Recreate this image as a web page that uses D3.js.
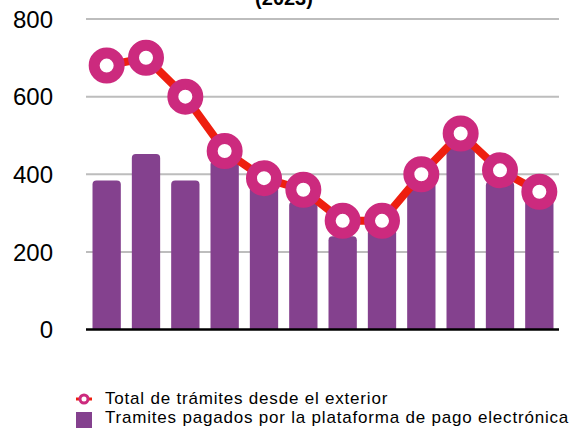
<!DOCTYPE html>
<html>
<head>
<meta charset="utf-8">
<script src="https://cdn.jsdelivr.net/npm/d3@7"></script>
<style>
  body { margin: 0; background: #fff; }
  svg { display: block; font-family: Helvetica, Arial, "Liberation Sans", sans-serif; }
</style>
</head>
<body>
<svg width="571" height="434"></svg>
<script>
// months of 2023
var months = ["Ene", "Feb", "Mar", "Abr", "May", "Jun", "Jul", "Ago", "Sep", "Oct", "Nov", "Dic"];
// Total de trámites desde el exterior
var totalTramites = [680, 700, 600, 460, 390, 360, 280, 280, 400, 505, 410, 355];
// Tramites pagados por la plataforma de pago electrónica
var pagados = [384, 452, 384, 435, 378, 330, 240, 258, 380, 470, 381, 340];
var yTicks = [0, 200, 400, 600, 800];
var seriesNames = ["Total de trámites desde el exterior", "Tramites pagados por la plataforma de pago electrónica"];

var svg = d3.select("svg");

var x = d3.scaleBand()
    .domain(months)
    .range([87, 559])
    .paddingInner(0.28)
    .paddingOuter(0.14);

var y = d3.scaleLinear()
    .domain([0, 800])
    .range([329.5, 19]);

// title (only the last line shows in the frame)
svg.append("text")
    .attr("x", 284)
    .attr("y", 5)
    .attr("text-anchor", "middle")
    .attr("font-size", 20)
    .attr("font-weight", "bold")
    .text("(2023)");

// gridlines
svg.append("g")
  .selectAll("line")
  .data(yTicks.filter(function(d) { return d > 0; }))
  .enter().append("line")
    .attr("x1", 86)
    .attr("x2", 559)
    .attr("y1", function(d) { return y(d); })
    .attr("y2", function(d) { return y(d); })
    .attr("stroke", "#bdbdbd")
    .attr("stroke-width", 2);

// y labels
svg.append("g")
  .selectAll("text")
  .data(yTicks)
  .enter().append("text")
    .attr("x", 53)
    .attr("y", function(d) { return y(d); })
    .attr("dy", "0.36em")
    .attr("text-anchor", "end")
    .attr("font-size", 24)
    .attr("fill", "#000")
    .text(function(d) { return d; });

// bars with rounded tops
var rr = 4;
svg.append("g")
  .selectAll("path")
  .data(pagados)
  .enter().append("path")
    .attr("fill", "#84418e")
    .attr("d", function(d, i) {
      var x0 = x(months[i]), w = x.bandwidth(), y0 = y(d), yb = y(0);
      return "M" + x0 + "," + yb +
        "V" + (y0 + rr) +
        "Q" + x0 + "," + y0 + " " + (x0 + rr) + "," + y0 +
        "H" + (x0 + w - rr) +
        "Q" + (x0 + w) + "," + y0 + " " + (x0 + w) + "," + (y0 + rr) +
        "V" + yb + "Z";
    });

// baseline
svg.append("line")
    .attr("x1", 86)
    .attr("x2", 559)
    .attr("y1", y(0))
    .attr("y2", y(0))
    .attr("stroke", "#000")
    .attr("stroke-width", 2.5);

// line series
var line = d3.line()
    .x(function(d, i) { return x(months[i]) + x.bandwidth() / 2; })
    .y(function(d) { return y(d); });

svg.append("path")
    .datum(totalTramites)
    .attr("d", line)
    .attr("fill", "none")
    .attr("stroke", "#ee1f0f")
    .attr("stroke-width", 8);

svg.append("g")
  .selectAll("circle")
  .data(totalTramites)
  .enter().append("circle")
    .attr("cx", function(d, i) { return x(months[i]) + x.bandwidth() / 2; })
    .attr("cy", function(d) { return y(d); })
    .attr("r", 12.5)
    .attr("fill", "#fff")
    .attr("stroke", "#cc2a7e")
    .attr("stroke-width", 11);

// legend
var legend = svg.append("g");
legend.append("line")
    .attr("x1", 76).attr("x2", 92)
    .attr("y1", 399).attr("y2", 399)
    .attr("stroke", "#ee1f0f")
    .attr("stroke-width", 3);
legend.append("circle")
    .attr("cx", 84).attr("cy", 399)
    .attr("r", 4)
    .attr("fill", "#fff")
    .attr("stroke", "#cc2a7e")
    .attr("stroke-width", 3);
legend.append("rect")
    .attr("x", 76).attr("y", 412)
    .attr("width", 16).attr("height", 16)
    .attr("fill", "#84418e");
legend.selectAll("text")
  .data(seriesNames)
  .enter().append("text")
    .attr("x", 105)
    .attr("y", function(d, i) { return 404 + i * 19; })
    .attr("font-size", 17)
    .attr("letter-spacing", 0.8)
    .attr("fill", "#000")
    .text(function(d) { return d; });
</script>
</body>
</html>
